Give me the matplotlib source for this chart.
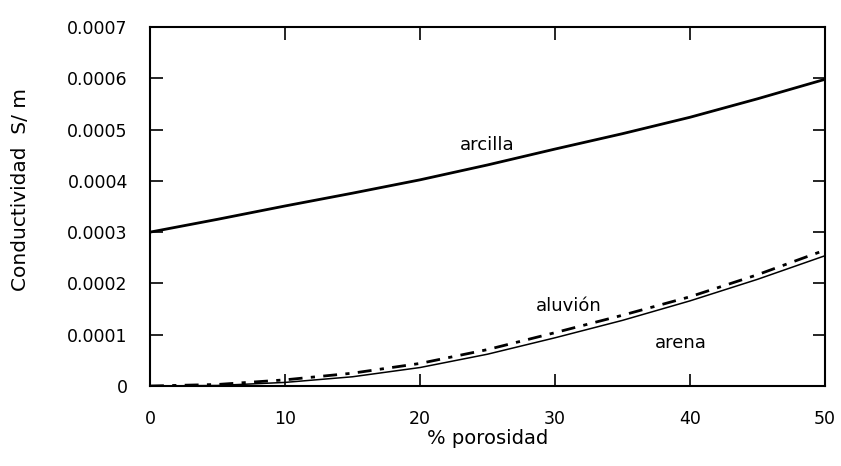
import matplotlib
matplotlib.use("Agg")
import matplotlib.pyplot as plt

plt.rcParams['font.family'] = ['DejaVu Sans']

porosidad = [0, 5, 10, 15, 20, 25, 30, 35, 40, 45, 50]
arcilla = [0.000300, 0.000325, 0.000351, 0.000376, 0.000402, 0.000431, 0.000462,
           0.000492, 0.000524, 0.000560, 0.000598]
aluvion = [0.0, 0.000003, 0.000012, 0.000025, 0.000044, 0.000071, 0.000104,
           0.000138, 0.000174, 0.000217, 0.000265]
arena = [0.0, 0.000001, 0.000007, 0.000018, 0.000036, 0.000062, 0.000094,
         0.000128, 0.000166, 0.000208, 0.000254]

ytick_vals = [0, 0.0001, 0.0002, 0.0003, 0.0004, 0.0005, 0.0006, 0.0007]
ytick_labels = ["0", "0.0001", "0.0002", "0.0003", "0.0004", "0.0005", "0.0006", "0.0007"]
xtick_vals = [0, 10, 20, 30, 40, 50]

fig = plt.figure(figsize=(8.41, 4.66), dpi=100)
ax = fig.add_axes([150 / 841, 1 - 386 / 466, 675 / 841, 359 / 466])

ax.plot(porosidad, arcilla, color="black", lw=2.0)
ax.plot(porosidad, aluvion, color="black", lw=2.0, linestyle=(0, (5, 3, 1.5, 3)))
ax.plot(porosidad, arena, color="black", lw=1.1)

ax.text(25.0, 0.000470, "arcilla", fontsize=13, ha="center", va="center")
ax.text(31.0, 0.000156, "aluvión", fontsize=13, ha="center", va="center")
ax.text(39.3, 0.000084, "arena", fontsize=13, ha="center", va="center")

ax.set_xlim(0, 50)
ax.set_ylim(0, 0.0007)
ax.set_xticks(xtick_vals)
ax.set_yticks(ytick_vals)
ax.set_yticklabels(ytick_labels)
ax.tick_params(direction="in", length=9, width=1.2, top=True, right=True,
               labelsize=12.5)
ax.tick_params(axis="y", pad=16)
ax.tick_params(axis="x", pad=17)
for s in ax.spines.values():
    s.set_linewidth(1.5)

ax.set_xlabel("% porosidad", fontsize=14, labelpad=1)
ax.set_ylabel("Conductividad  S/ m", fontsize=14.5)
ax.yaxis.set_label_coords(-0.178, 0.546)

fig.savefig("out.png", dpi=100)
